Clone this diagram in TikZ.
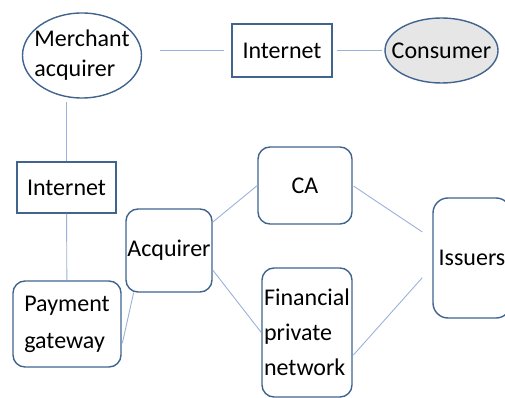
\documentclass[tikz,border=0pt]{standalone}
\usepackage{fontspec}
\setmainfont{Carlito}
\usetikzlibrary{shapes.geometric,positioning}
\definecolor{boxblue}{HTML}{41648F}
\definecolor{lineblue}{HTML}{9AB2DA}
\definecolor{shade}{HTML}{E7E6E6}

\begin{document}
\begin{tikzpicture}[x = 1pt, y = -1pt,
  every node/.style = {draw = boxblue, line width = 1.4pt, inner sep = 0pt, font = \fontsize{24}{35}\selectfont},
  box/.style = {shape = rectangle, rounded corners = 12pt},
  oval/.style = {shape = ellipse},
  link/.style = {draw = lineblue, line width = 0.9pt}]
\clip (0,0) rectangle (505,398);
\node[oval, minimum width = 119pt, minimum height = 85pt, inner xsep = -9pt, align = left, font = \fontsize{24}{30}\selectfont] (1) at (82,55.5) {Merchant\\acquirer};
\node[shape = rectangle, minimum width = 100pt, minimum height = 53pt] (2) at (282,50.5) {Internet};
\node[oval, fill = shade, minimum width = 113pt, minimum height = 65pt, inner xsep = -13pt] (3) at (441.5,50.5) {Consumer};
\node[shape = rectangle, minimum width = 99pt, minimum height = 51pt] (4) at (66.5,187.5) {Internet};
\node[box, minimum width = 108pt, minimum height = 86pt, align = left, font = \fontsize{24}{37}\selectfont] (5) at (67,324) {Payment\\gateway};
\node[box, minimum width = 86pt, minimum height = 83pt] (6) at (169,250.5) {Acquirer};
\node[box, minimum width = 94pt, minimum height = 77pt] (7) at (305,185.5) {CA};
\node[box, minimum width = 90pt, minimum height = 129pt, align = left] (8) at (307,332.5) {Financial\\private\\network};
\node[box, rounded corners = 15pt, minimum width = 78pt, minimum height = 120pt] (9) at (472,258) {Issuers};
\begin{scope}[every path/.style = {link}]
\draw[shorten <= 18pt, shorten >= 7pt] (1.east |- 2.west) -- (2.west);
\draw[shorten <= 4pt, shorten >= 2pt] (2.east) -- (3.west);
\draw[shorten >= 3pt] (4.north) -- (4.north |- 1.south);
\draw (4) -- (5);
\draw[shorten <= 3pt] (5.-22) -- (6.230);
\draw (6.33) -- (7.west);
\draw (6.-24) -- (8.west);
\draw[shorten <= 1pt, shorten >= 12pt] (7.east) -- (9.154);
\draw[shorten <= 1pt, shorten >= 15pt] (8.-27) -- (9.192);
\end{scope}
\end{tikzpicture}
\end{document}
